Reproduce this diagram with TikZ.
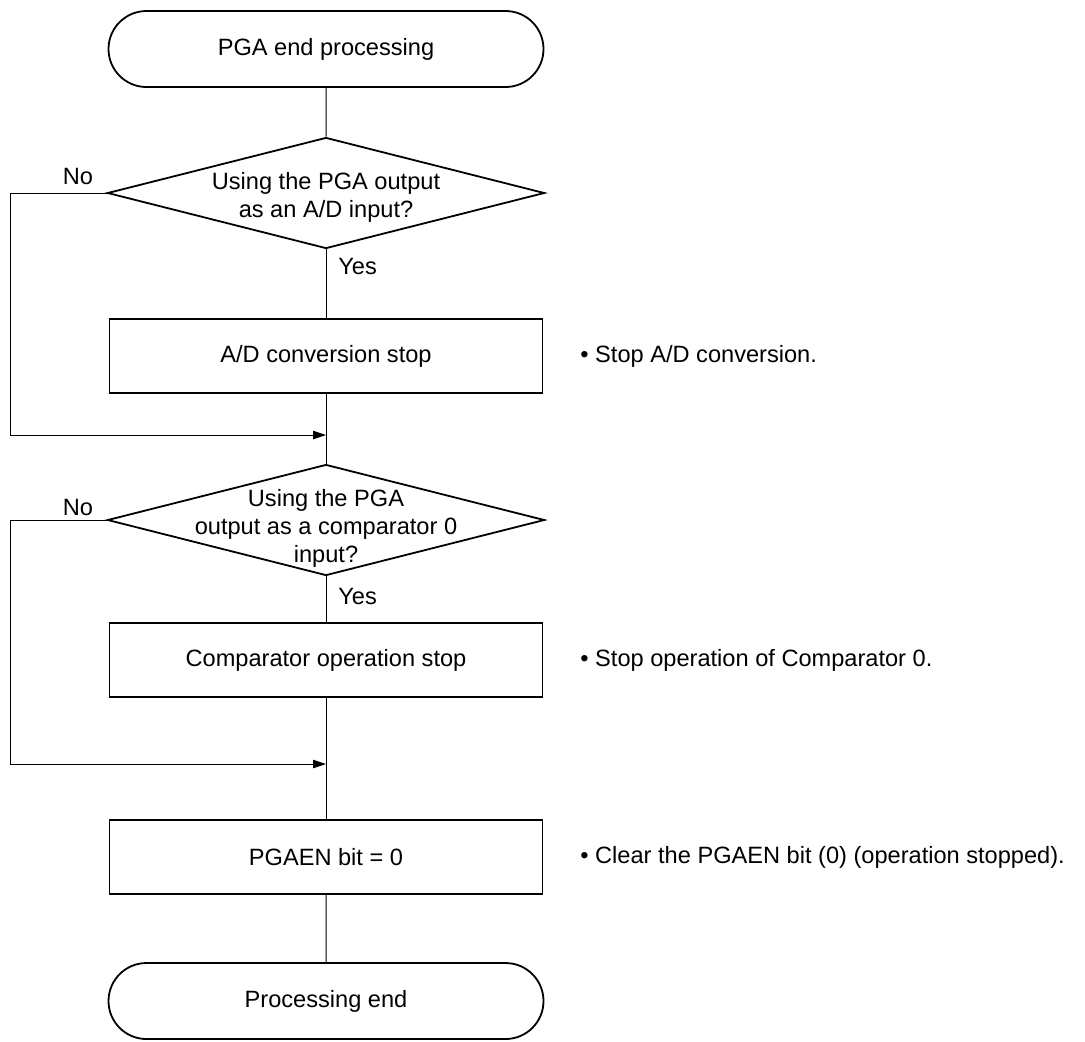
\documentclass[tikz,border=0pt]{standalone}
\usepackage{fontspec}
\setmainfont{Liberation Sans}
\usetikzlibrary{arrows.meta,positioning,shapes.geometric,shapes.misc}

\begin{document}
\begin{tikzpicture}[x=0.5pt, y=0.5pt,
    every node/.style={font=\fontsize{11.8}{14}\selectfont},
    terminal/.style={draw, rounded rectangle, line width=0.9pt, minimum width=217.5pt, minimum height=38pt, inner sep=0pt},
    process/.style={draw, rectangle, line width=0.9pt, minimum width=216.5pt, minimum height=37pt, inner sep=0pt},
    decision/.style={draw, diamond, line width=0.9pt, minimum width=218.5pt, minimum height=55.5pt, inner sep=0pt},
    flow/.style={line width=0.5pt},
    flowarrow/.style={line width=0.5pt, -{Triangle[length=6.5pt,width=4.2pt]}},
    note/.style={anchor=west, inner sep=0pt},
    answer/.style={inner sep=0pt}]
    \useasboundingbox (0,0) rectangle (1085,-1041);

    % Main column
    \node[terminal] (start) at (326,-49) {PGA end processing};
    \node[decision, label={[align=center, yshift=-2pt]center:Using the PGA output\\as an A/D input?}] (dec1) at (326,-193) {};
    \node[process] (box1) at (326,-356) {A/D conversion stop};
    \node[decision, label={[align=center, yshift=-4pt]center:Using the PGA\\output as a comparator 0\\input?}] (dec2) at (326,-520) {};
    \node[process] (box2) at (326,-660) {Comparator operation stop};
    \node[process] (box3) at (326,-857) {PGAEN bit = 0};
    \node[terminal] (finish) at (326,-1001) {Processing end};

    % Merge points
    \coordinate (merge1) at (326,-435);
    \coordinate (loop1) at (10,-435);
    \coordinate (merge2) at (326,-764);
    \coordinate (loop2) at (10,-764);

    % Connectors
    \draw[flow] (start) -- (dec1);
    \draw[flow] (dec1) -- (box1);
    \draw[flow] (box1) -- (dec2);
    \draw[flow] (dec2) -- (box2);
    \draw[flow] (box2) -- (box3);
    \draw[flow] (box3) -- (finish);
    \draw[flowarrow] (dec1.west) -| (loop1) -- (merge1);
    \draw[flowarrow] (dec2.west) -| (loop2) -- (merge2);

    % Branch labels
    \node[answer] (no1) at (78,-176) {No};
    \node[answer, anchor=west] (yes1) at (338,-266) {Yes};
    \node[answer] (no2) at (78,-507) {No};
    \node[answer, anchor=west] (yes2) at (338,-596) {Yes};

    % Notes
    \node[note] (note1) at (580,-356) {\textbullet\ Stop A/D conversion.};
    \node[note] (note2) at (580,-660) {\textbullet\ Stop operation of Comparator 0.};
    \node[note] (note3) at (580,-857) {\textbullet\ Clear the PGAEN bit (0) (operation stopped).};
\end{tikzpicture}
\end{document}
